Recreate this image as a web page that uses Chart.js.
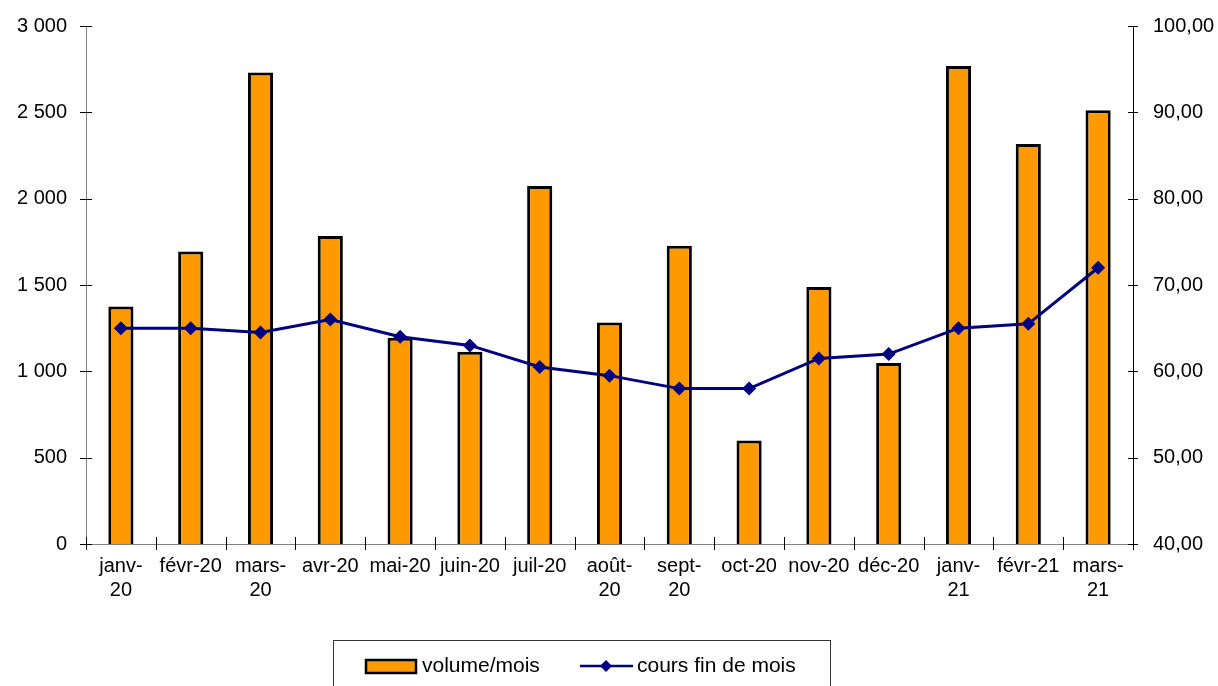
<!DOCTYPE html>
<html>
<head>
<meta charset="utf-8">
<script src="https://cdn.jsdelivr.net/npm/chart.js@4"></script>
<style>
  body { margin: 0; background: #fff; }
  #wrap { width: 1218px; height: 686px; }
</style>
</head>
<body>
<div id="wrap"><canvas id="graphique"></canvas></div>
<script>
// mois (libellés sur deux lignes quand Excel les coupe)
const mois = [
  ['janv-', '20'], 'févr-20', ['mars-', '20'], 'avr-20', 'mai-20', 'juin-20',
  'juil-20', ['août-', '20'], ['sept-', '20'], 'oct-20', 'nov-20', 'déc-20',
  ['janv-', '21'], 'févr-21', ['mars-', '21']
];
const volumeMois = [1375, 1694, 2730, 1784, 1195, 1114, 2073, 1283, 1728, 600, 1488, 1048, 2769, 2317, 2512];
const coursFinMois = [65.0, 65.0, 64.5, 66.0, 64.0, 63.0, 60.5, 59.5, 58.0, 58.0, 61.5, 62.0, 65.0, 65.5, 72.0];
const ticksVolume = [0, 500, 1000, 1500, 2000, 2500, 3000];
const ticksCours = [40, 50, 60, 70, 80, 90, 100];

const police = "'Liberation Sans', Arial, sans-serif";

// petits traits des axes (qui croisent l'axe) + légende encadrée en bas
const decorPlugin = {
  id: 'decor',
  afterDraw(chart) {
    const ctx = chart.ctx;
    const x = chart.scales.x, y = chart.scales.y, y1 = chart.scales.y1;
    ctx.save();
    ctx.lineWidth = 1;
    ctx.strokeStyle = '#000';
    ctx.beginPath();
    ticksVolume.forEach(v => {
      const py = Math.round(y.getPixelForValue(v)) + 0.5;
      ctx.moveTo(x.left - 6, py); ctx.lineTo(x.left + 6, py);
    });
    ticksCours.forEach(v => {
      const py = Math.round(y1.getPixelForValue(v)) + 0.5;
      ctx.moveTo(x.right - 5, py); ctx.lineTo(x.right + 5, py);
    });
    const pas = (x.right - x.left) / mois.length;
    for (let i = 0; i <= mois.length; i++) {
      const px = Math.round(x.getPixelForValue(i) - pas / 2) + 0.5;
      ctx.moveTo(px, y.bottom - 7); ctx.lineTo(px, y.bottom + 6);
    }
    ctx.stroke();

    // légende
    ctx.strokeStyle = '#333';
    ctx.strokeRect(333.5, 640.5, 497, 60);
    const barDs = chart.data.datasets[0], lineDs = chart.data.datasets[1];
    ctx.fillStyle = barDs.backgroundColor;
    ctx.fillRect(366, 660, 50, 13);
    ctx.lineWidth = 2.5;
    ctx.strokeStyle = barDs.borderColor;
    ctx.strokeRect(366, 660, 50, 13);
    ctx.font = '21px ' + police;
    ctx.fillStyle = '#000';
    ctx.textBaseline = 'middle';
    ctx.fillText(barDs.label, 422, 666);

    ctx.strokeStyle = lineDs.borderColor;
    ctx.lineWidth = 2.5;
    ctx.beginPath();
    ctx.moveTo(580, 666); ctx.lineTo(633, 666);
    ctx.stroke();
    ctx.fillStyle = lineDs.borderColor;
    ctx.beginPath();
    ctx.moveTo(606, 660); ctx.lineTo(612, 666); ctx.lineTo(606, 672); ctx.lineTo(600, 666);
    ctx.closePath();
    ctx.fill();
    ctx.fillStyle = '#000';
    ctx.fillText(lineDs.label, 637, 666);
    ctx.restore();
  }
};

// largeur des axes fixée, sans marge supplémentaire en haut
const fixeAxe = largeur => s => {
  s.width = largeur;
  s.paddingTop = 0;
  s.paddingBottom = 0;
};

new Chart(document.getElementById('graphique'), {
  type: 'bar',
  data: {
    labels: mois,
    datasets: [{
      type: 'bar',
      label: 'volume/mois',
      data: volumeMois,
      yAxisID: 'y',
      backgroundColor: '#FF9900',
      borderColor: '#000',
      borderWidth: 3,
      barPercentage: 0.72,
      categoryPercentage: 0.5,
      order: 2
    }, {
      type: 'line',
      label: 'cours fin de mois',
      data: coursFinMois,
      yAxisID: 'y1',
      borderColor: '#000080',
      backgroundColor: '#000080',
      borderWidth: 3,
      tension: 0,
      pointStyle: 'rectRot',
      pointRadius: 7,
      pointBorderWidth: 0,
      pointBackgroundColor: '#000080',
      order: 1
    }]
  },
  options: {
    responsive: true,
    maintainAspectRatio: false,
    animation: false,
    layout: { autoPadding: false, padding: { top: 26, left: 0, right: 0, bottom: 0 } },
    plugins: {
      legend: { display: false },
      tooltip: { enabled: false }
    },
    scales: {
      x: {
        grid: { display: false, drawTicks: false },
        border: { display: true, color: '#808080', width: 1 },
        ticks: {
          color: '#000',
          font: { family: police, size: 20 },
          padding: 10,
          autoSkip: false,
          maxRotation: 0,
          minRotation: 0
        },
        afterFit: s => { s.height = 142; }
      },
      y: {
        position: 'left',
        min: 0, max: 3000,
        grid: { display: false, drawTicks: false },
        border: { display: true, color: '#808080', width: 1 },
        ticks: {
          stepSize: 500,
          color: '#000',
          padding: 19,
          font: { family: police, size: 20 },
          callback: v => String(v).replace(/\B(?=(\d{3})+(?!\d))/g, ' ')
        },
        afterFit: fixeAxe(86)
      },
      y1: {
        position: 'right',
        min: 40, max: 100,
        grid: { display: false, drawTicks: false },
        border: { display: true, color: '#000', width: 1 },
        ticks: {
          stepSize: 10,
          color: '#000',
          padding: 20,
          font: { family: police, size: 20 },
          callback: v => v.toFixed(2).replace('.', ',')
        },
        afterFit: fixeAxe(85)
      }
    }
  },
  plugins: [decorPlugin]
});
</script>
</body>
</html>
